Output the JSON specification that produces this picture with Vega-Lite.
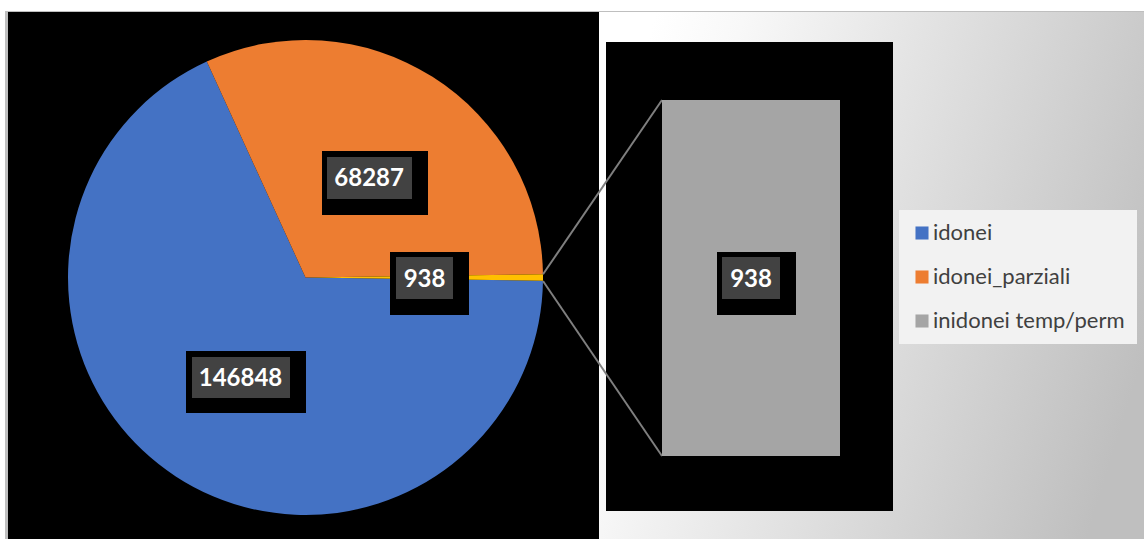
{
  "$schema": "https://vega.github.io/schema/vega-lite/v6.json",
  "width": 1144,
  "height": 539,
  "padding": 0,
  "autosize": {"type": "fit", "contains": "padding"},
  "background": "#FFFFFF",
  "config": {"view": {"stroke": null}, "font": "Lato"},
  "datasets": {
    "torta": [
      {"categoria": "idonei", "valore": 146848},
      {"categoria": "idonei_parziali", "valore": 68287},
      {"categoria": "Altro", "valore": 938}
    ],
    "barra": [
      {"categoria": "inidonei temp/perm", "valore": 938}
    ]
  },
  "data": {"name": "barra"},
  "resolve": {"scale": {"y": "independent"}},
  "layer": [
    {
      "layer": [
        {
          "mark": {"type": "rect", "color": "#BFBFBF"},
          "encoding": {
            "x": {"datum": 5, "type": "quantitative", "scale": {"domain": [0, 1144], "nice": false, "zero": false}, "axis": null},
            "x2": {"datum": 1144},
            "y": {"datum": 11, "type": "quantitative", "scale": {"domain": [0, 539], "reverse": true, "nice": false, "zero": false}, "axis": null},
            "y2": {"datum": 539}
          }
        },
        {
          "mark": {"type": "rect", "color": "#000000"},
          "encoding": {
            "x": {"datum": 8, "type": "quantitative", "axis": null},
            "x2": {"datum": 599},
            "y": {"datum": 12, "type": "quantitative", "axis": null},
            "y2": {"datum": 539}
          }
        },
        {
          "mark": {"type": "rect", "color": {"gradient": "linear", "x1": 0, "y1": 0.35, "x2": 1, "y2": 0.65, "stops": [{"offset": 0, "color": "#FFFFFF"}, {"offset": 0.15, "color": "#F8F8F8"}, {"offset": 1, "color": "#BFBFBF"}]}},
          "encoding": {
            "x": {"datum": 599, "type": "quantitative", "axis": null},
            "x2": {"datum": 1144},
            "y": {"datum": 12, "type": "quantitative", "axis": null},
            "y2": {"datum": 539}
          }
        },
        {
          "mark": {"type": "rect", "color": "#000000"},
          "encoding": {
            "x": {"datum": 606, "type": "quantitative", "axis": null},
            "x2": {"datum": 893},
            "y": {"datum": 42, "type": "quantitative", "axis": null},
            "y2": {"datum": 511}
          }
        },
        {
          "data": {"name": "torta"},
          "mark": {"type": "arc", "outerRadius": 237.5, "x": 305.5, "y": 277.5},
          "encoding": {
            "theta": {"field": "valore", "type": "quantitative", "stack": true, "scale": {"range": [1.58443, 7.86762]}},
            "order": {"field": "valore", "type": "quantitative", "sort": "descending"},
            "color": {
              "field": "categoria",
              "type": "nominal",
              "scale": {"domain": ["idonei", "idonei_parziali", "inidonei temp/perm", "Altro"], "range": ["#4472C4", "#ED7D31", "#A5A5A5", "#FFC000"]},
              "legend": {
                "title": null,
                "orient": "none",
                "legendX": 899,
                "legendY": 210,
                "values": ["idonei", "idonei_parziali", "inidonei temp/perm"],
                "symbolType": "square",
                "symbolSize": 170,
                "symbolStrokeWidth": 0,
                "symbolOpacity": 1,
                "labelFont": "Lato",
                "labelFontSize": 22,
                "labelColor": "#404040",
                "labelOffset": 0,
                "labelLimit": 400,
                "fillColor": "#F2F2F2",
                "padding": 12,
                "rowPadding": 22
              }
            }
          }
        },
        {
          "mark": {"type": "rule", "color": "#7F7F7F", "strokeWidth": 2},
          "encoding": {
            "x": {"datum": 543, "type": "quantitative", "axis": null},
            "x2": {"datum": 662},
            "y": {"datum": 274.3, "type": "quantitative", "axis": null},
            "y2": {"datum": 100}
          }
        },
        {
          "mark": {"type": "rule", "color": "#7F7F7F", "strokeWidth": 2},
          "encoding": {
            "x": {"datum": 543, "type": "quantitative", "axis": null},
            "x2": {"datum": 662},
            "y": {"datum": 281, "type": "quantitative", "axis": null},
            "y2": {"datum": 456}
          }
        },
        {
          "mark": {"type": "rect", "color": "#000000"},
          "encoding": {"x": {"datum": 322, "type": "quantitative", "axis": null}, "x2": {"datum": 428}, "y": {"datum": 151, "type": "quantitative", "axis": null}, "y2": {"datum": 215}}
        },
        {
          "mark": {"type": "rect", "color": "#424242"},
          "encoding": {"x": {"datum": 327, "type": "quantitative", "axis": null}, "x2": {"datum": 412}, "y": {"datum": 157, "type": "quantitative", "axis": null}, "y2": {"datum": 199}}
        },
        {
          "mark": {"type": "rect", "color": "#000000"},
          "encoding": {"x": {"datum": 186, "type": "quantitative", "axis": null}, "x2": {"datum": 306}, "y": {"datum": 351, "type": "quantitative", "axis": null}, "y2": {"datum": 413}}
        },
        {
          "mark": {"type": "rect", "color": "#424242"},
          "encoding": {"x": {"datum": 192, "type": "quantitative", "axis": null}, "x2": {"datum": 290}, "y": {"datum": 357, "type": "quantitative", "axis": null}, "y2": {"datum": 398}}
        },
        {
          "mark": {"type": "rect", "color": "#000000"},
          "encoding": {"x": {"datum": 390, "type": "quantitative", "axis": null}, "x2": {"datum": 469}, "y": {"datum": 252, "type": "quantitative", "axis": null}, "y2": {"datum": 315}}
        },
        {
          "mark": {"type": "rect", "color": "#424242"},
          "encoding": {"x": {"datum": 396, "type": "quantitative", "axis": null}, "x2": {"datum": 453}, "y": {"datum": 257, "type": "quantitative", "axis": null}, "y2": {"datum": 299}}
        },
        {
          "data": {"name": "torta"},
          "mark": {"type": "text", "x": 305.5, "y": 277.5, "radius": 119, "font": "Lato", "fontWeight": "bold", "fontSize": 24, "color": "#FFFFFF", "align": "center", "baseline": "middle", "dy": 2},
          "encoding": {
            "theta": {"field": "valore", "type": "quantitative", "stack": true, "scale": {"range": [1.58443, 7.86762]}},
            "order": {"field": "valore", "type": "quantitative", "sort": "descending"},
            "text": {"field": "valore", "type": "quantitative", "format": "d"}
          }
        }
      ]
    },
    {
      "mark": {"type": "rect"},
      "encoding": {
        "x": {"datum": 662, "type": "quantitative", "scale": {"domain": [0, 1144], "nice": false, "zero": false}, "axis": null},
        "x2": {"datum": 840},
        "y": {"field": "valore", "type": "quantitative", "scale": {"range": [456, 100], "nice": false, "zero": true}, "axis": null},
        "y2": {"datum": 0},
        "color": {"field": "categoria", "type": "nominal"}
      }
    },
    {
      "layer": [
        {
          "mark": {"type": "rect", "color": "#000000"},
          "encoding": {
            "x": {"datum": 717, "type": "quantitative", "axis": null},
            "x2": {"datum": 796},
            "y": {"datum": 252, "type": "quantitative", "scale": {"domain": [0, 539], "reverse": true, "nice": false, "zero": false}, "axis": null},
            "y2": {"datum": 315}
          }
        },
        {
          "mark": {"type": "rect", "color": "#424242"},
          "encoding": {"x": {"datum": 722, "type": "quantitative", "axis": null}, "x2": {"datum": 780}, "y": {"datum": 257, "type": "quantitative", "axis": null}, "y2": {"datum": 299}}
        },
        {
          "mark": {"type": "text", "font": "Lato", "fontWeight": "bold", "fontSize": 24, "color": "#FFFFFF", "align": "center", "baseline": "middle"},
          "encoding": {
            "x": {"datum": 751, "type": "quantitative", "axis": null},
            "y": {"datum": 280, "type": "quantitative", "axis": null},
            "text": {"field": "valore", "type": "quantitative", "format": "d"}
          }
        }
      ]
    }
  ]
}
